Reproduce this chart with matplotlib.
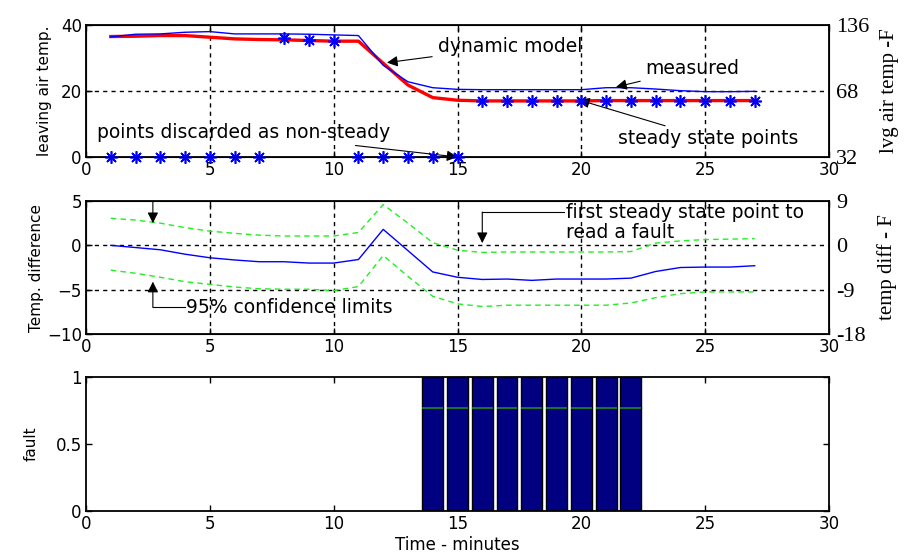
import matplotlib.pyplot as plt
import numpy as np

# time axis (minutes)
t_model = [1, 2, 3, 4, 5, 6, 7, 8, 9, 10, 11, 12, 13, 14, 15, 16, 17, 18, 19, 20, 21, 22, 23, 24, 25, 26, 27]
dynamic_model = [36.5, 36.6, 36.8, 36.8, 36.3, 35.8, 35.6, 35.5, 35.3, 35.1, 35.1, 28.4, 21.8, 18.0, 17.2,
                 17.0, 17.0, 17.0, 17.0, 17.0, 17.1, 17.1, 17.1, 17.1, 17.1, 17.1, 17.1]
measured = [36.4, 37.2, 37.3, 37.8, 38.0, 37.3, 37.3, 37.3, 37.2, 37.0, 36.8, 27.8, 22.8, 21.0, 20.5,
            20.4, 20.4, 20.4, 20.4, 20.4, 21.0, 21.0, 20.6, 20.1, 19.8, 19.8, 19.9]

# steady / non-steady points
t_steady = [8, 9, 10, 16, 17, 18, 19, 20, 21, 22, 23, 24, 25, 26, 27]
y_steady = [36.2, 35.5, 35.2, 17.0, 17.0, 17.0, 17.0, 17.0, 17.1, 17.1, 17.1, 17.1, 17.1, 17.1, 17.1]
t_discard = [1, 2, 3, 4, 5, 6, 7, 11, 12, 13, 14, 15]
y_discard = [0] * len(t_discard)

# temperature difference and 95% limits
temp_diff = [0.0, -0.25, -0.5, -1.0, -1.4, -1.65, -1.85, -1.85, -2.0, -2.0, -1.6, 1.8, -0.6, -3.0, -3.6,
             -3.85, -3.8, -3.95, -3.8, -3.8, -3.8, -3.7, -2.95, -2.5, -2.45, -2.45, -2.3]
upper_lim = [3.05, 2.85, 2.5, 2.0, 1.6, 1.35, 1.15, 1.05, 1.05, 1.05, 1.45, 4.6, 2.5, 0.3, -0.55,
             -0.8, -0.75, -0.75, -0.75, -0.75, -0.75, -0.7, 0.25, 0.5, 0.65, 0.7, 0.75]
lower_lim = [-2.8, -3.15, -3.6, -4.1, -4.4, -4.7, -4.9, -4.95, -4.95, -5.1, -4.65, -1.15, -3.5, -5.75, -6.6,
             -6.9, -6.75, -6.75, -6.75, -6.75, -6.75, -6.5, -5.9, -5.45, -5.25, -5.25, -5.25]

# fault flags
t_fault = [14, 15, 16, 17, 18, 19, 20, 21, 22]
fault = [1, 1, 1, 1, 1, 1, 1, 1, 1]
fault_level = 0.77

# tick labels
xticks = [0, 5, 10, 15, 20, 25, 30]
top_yticks = [0, 20, 40]
top_right_labels = ['32', '68', '136']
mid_yticks = [-10, -5, 0, 5]
mid_right_labels = ['-18', '-9', '0', '9']
bot_yticks = [0, 0.5, 1]

fig = plt.figure(figsize=(9.12, 5.58), dpi=100)
ax1 = fig.add_axes([0.0943, 0.7186, 0.8147, 0.2366])
ax2 = fig.add_axes([0.0943, 0.4014, 0.8147, 0.2384])
ax3 = fig.add_axes([0.0943, 0.0842, 0.8147, 0.2401])

serif = 'Liberation Serif'
note_fs = 13.5


def style(ax, yticks, grid_y):
    ax.set_xlim(0, 30)
    ax.set_xticks(xticks)
    ax.set_yticks(yticks)
    ax.tick_params(direction='in', top=True, right=True, labelsize=12, length=4, width=1, pad=3)
    for s in ax.spines.values():
        s.set_linewidth(1.3)
    if grid_y is not None:
        for x in xticks[1:-1]:
            ax.axvline(x, color='k', ls=(0, (3, 3)), lw=1, zorder=0)
        for y in grid_y:
            ax.axhline(y, color='k', ls=(0, (3, 3)), lw=1, zorder=0)


def right_labels(ax, ticks, labels, text):
    r = ax.twinx()
    r.set_ylim(ax.get_ylim())
    r.set_yticks(ticks)
    r.set_yticklabels(labels, family=serif, fontsize=16)
    r.tick_params(direction='in', length=0, pad=5)
    r.set_ylabel(text, family=serif, fontsize=15, labelpad=8)


# ---- top panel
ax1.set_ylim(0, 40)
style(ax1, top_yticks, [20])
ax1.plot(t_model, dynamic_model, color='red', lw=2.4, zorder=3)
ax1.plot(t_model, measured, color='blue', lw=1, zorder=3)
star = (8, 2, 0)
ax1.plot(t_steady, y_steady, ls='none', marker=star, ms=9, mec='blue', mew=1.2, zorder=4, clip_on=False)
ax1.plot(t_discard, y_discard, ls='none', marker=star, ms=9, mec='blue', mew=1.2, zorder=4, clip_on=False)
ax1.set_ylabel('leaving air temp.', fontsize=11, labelpad=6)
right_labels(ax1, top_yticks, top_right_labels, 'lvg air temp -F')

arr = dict(arrowstyle='-|>', color='k', lw=0.8, mutation_scale=16)
ax1.annotate('dynamic model', xy=(12.15, 28.6), xytext=(14.2, 33.5), fontsize=note_fs,
             va='center', arrowprops=dict(arr, shrinkA=2, shrinkB=0))
ax1.annotate('measured', xy=(21.4, 21.2), xytext=(22.6, 26.8), fontsize=note_fs,
             va='center', arrowprops=dict(arr, shrinkA=2, shrinkB=0))
ax1.annotate('steady state points', xy=(19.9, 17.3), xytext=(21.5, 5.5), fontsize=note_fs,
             va='center', arrowprops=dict(arr, shrinkA=2, shrinkB=0))
ax1.annotate('points discarded as non-steady', xy=(15.0, 0.0), xytext=(0.45, 7.3), fontsize=note_fs,
             va='center', arrowprops=dict(arr, shrinkA=2, shrinkB=0))

# ---- middle panel
ax2.set_ylim(-10, 5)
style(ax2, mid_yticks, [0, -5])
ax2.plot(t_model, temp_diff, color='blue', lw=1, zorder=3)
ax2.plot(t_model, upper_lim, color='#22ee22', ls=(0, (4, 3)), lw=1, zorder=3)
ax2.plot(t_model, lower_lim, color='#22ee22', ls=(0, (4, 3)), lw=1, zorder=3)
ax2.set_ylabel('Temp. difference', fontsize=11, labelpad=2)
right_labels(ax2, mid_yticks, mid_right_labels, 'temp diff - F')

ax2.annotate('', xy=(2.7, 2.5), xytext=(2.7, 4.9), arrowprops=dict(arr, shrinkA=0, shrinkB=0))
ax2.plot([2.7, 4.0], [-7.0, -7.0], color='k', lw=0.8)
ax2.annotate('', xy=(2.7, -4.1), xytext=(2.7, -7.0), arrowprops=dict(arr, shrinkA=0, shrinkB=0))
ax2.text(4.05, -7.0, '95% confidence limits', fontsize=note_fs, va='center')
ax2.plot([16.0, 19.3], [3.75, 3.75], color='k', lw=0.8)
ax2.annotate('', xy=(16.0, 0.25), xytext=(16.0, 3.75), arrowprops=dict(arr, shrinkA=0, shrinkB=0))
ax2.text(19.4, 2.6, 'first steady state point to\nread a fault', fontsize=note_fs, va='center',
         linespacing=1.1)

# ---- bottom panel
ax3.set_ylim(0, 1)
style(ax3, bot_yticks, None)
ax3.set_yticklabels(['0', '0.5', '1'])
w = 0.84
ax3.bar(t_fault, fault, width=w, color='#000080', edgecolor='k', lw=1, zorder=2)
ax3.hlines([fault_level] * len(t_fault), np.array(t_fault) - w / 2, np.array(t_fault) + w / 2,
           color='#1a8a1a', lw=1.2, zorder=3)
ax3.set_ylabel('fault', fontsize=11, labelpad=12)
ax3.set_xlabel('Time - minutes', fontsize=12, labelpad=2)

fig.savefig('out.png', dpi=100)
